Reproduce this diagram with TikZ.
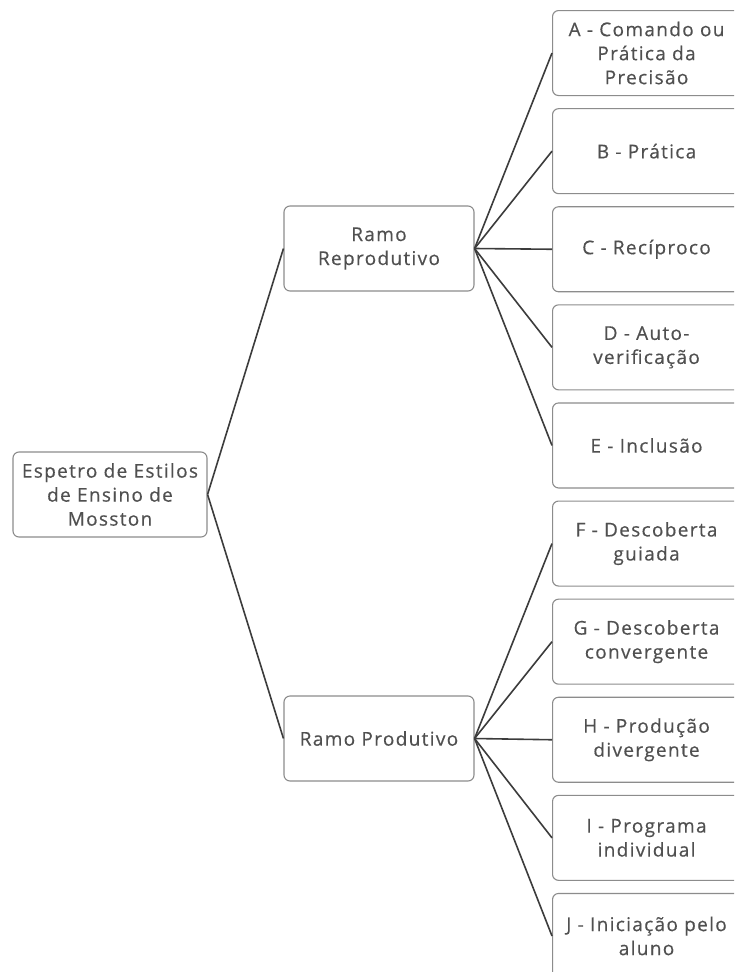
\documentclass[tikz,border=0pt]{standalone}
\usepackage{fontspec}
\setmainfont[LetterSpace=7,FakeBold=0.4]{Open Sans}
\usetikzlibrary{positioning}
\definecolor{boxline}{RGB}{140,140,140}
\definecolor{txtgray}{RGB}{80,80,80}
\definecolor{linkgray}{RGB}{60,60,60}

\begin{document}
\begin{tikzpicture}[
      x=1pt, y=-1pt, font=\fontsize{19}{24}\selectfont, node distance=12pt,
      box/.style={draw=boxline, line width=1.1pt, rounded corners=6pt, align=center,
                  text=txtgray, fill=white, minimum height=85pt, inner sep=1pt},
      rootbox/.style={box, minimum width=194pt},
      branchbox/.style={box, minimum width=190pt},
      leafbox/.style={box, minimum width=188pt},
      link/.style={draw=linkgray, line width=1.6pt},
    ]
    \clip (0,0) rectangle (734,972);
    \fill[white] (0,0) rectangle (734,972);

    \node[rootbox] (root) at (110,494.5) {Espetro de Estilos\\de Ensino de\\Mosston};
    \node[branchbox] (rep) at (379,248.5) {Ramo\\Reprodutivo};
    \node[branchbox] (prod) at (379,738.5) {Ramo Produtivo};

    % estilos reprodutivos
    \node[leafbox, anchor=north west] (a) at (552,10) {A - Comando ou\\Prática da\\Precisão};
    \node[leafbox, below=of a] (b) {B - Prática};
    \node[leafbox, below=of b] (c) {C - Recíproco};
    \node[leafbox, below=of c] (d) {D - Auto-\\verificação};
    \node[leafbox, below=of d] (e) {E - Inclusão};

    % estilos produtivos
    \node[leafbox, below=of e] (f) {F - Descoberta\\guiada};
    \node[leafbox, below=of f] (g) {G - Descoberta\\convergente};
    \node[leafbox, below=of g] (h) {H - Produção\\divergente};
    \node[leafbox, below=of h] (i) {I - Programa\\individual};
    \node[leafbox, below=of i] (j) {J - Iniciação pelo\\aluno};

    \draw[link] (root.east) -- (rep.west);
    \draw[link] (root.east) -- (prod.west);

    \draw[link] (rep.east) -- (a.west);
    \draw[link] (rep.east) -- (b.west);
    \draw[link] (rep.east) -- (c.west);
    \draw[link] (rep.east) -- (d.west);
    \draw[link] (rep.east) -- (e.west);

    \draw[link] (prod.east) -- (f.west);
    \draw[link] (prod.east) -- (g.west);
    \draw[link] (prod.east) -- (h.west);
    \draw[link] (prod.east) -- (i.west);
    \draw[link] (prod.east) -- (j.west);
  \end{tikzpicture}
\end{document}
